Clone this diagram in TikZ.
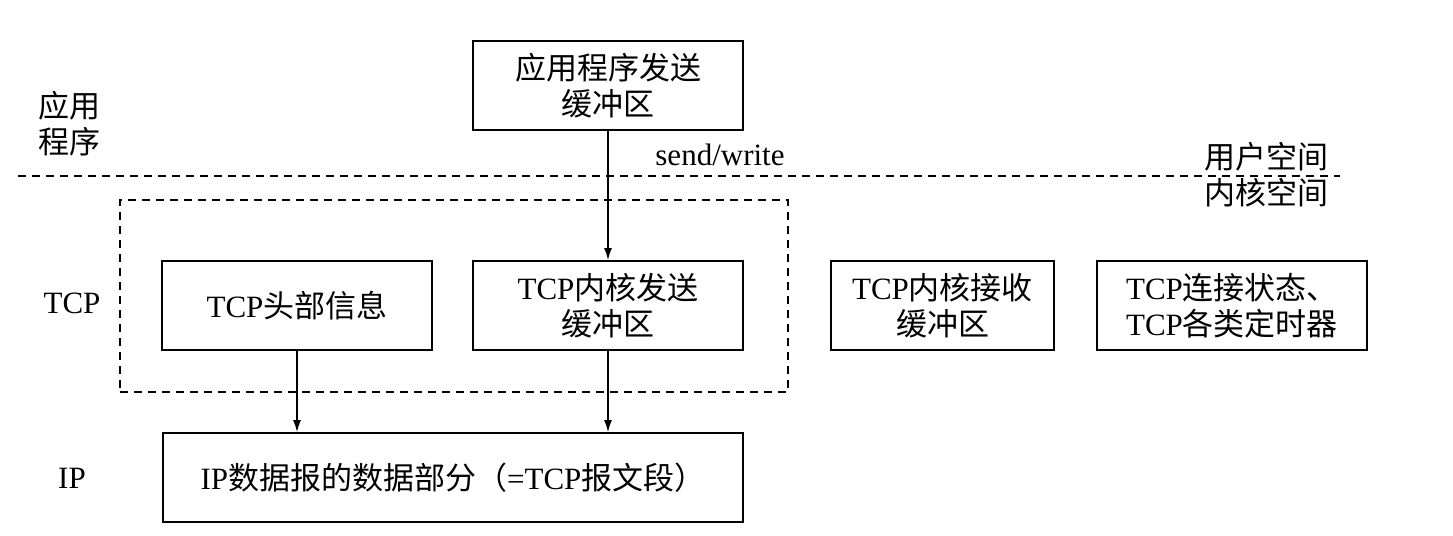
\documentclass[tikz,border=0pt]{standalone}
\usepackage{fontspec}
\setmainfont{Liberation Serif}
\newfontfamily\cjk{Noto Sans CJK SC}
\usetikzlibrary{arrows.meta}
\newcommand\zh[1]{{\cjk #1}}
\begin{document}
\begin{tikzpicture}[x=0.5pt,y=-0.5pt,
  box/.style={draw, line width=0.9pt, align=center, inner sep=0pt, minimum height=44.5pt, font=\fontsize{15.5}{18}\selectfont},
  lbl/.style={align=center, inner sep=0pt, font=\fontsize{15.5}{18}\selectfont},
  dline/.style={line width=0.7pt, dash pattern=on 4pt off 3pt},
  arr/.style={line width=0.7pt, -{Latex[length=6pt,width=4pt]}}]
\useasboundingbox (0,0) rectangle (1453,536);
% dashed separator
\coordinate (sepL) at (18,176);
\coordinate (sepR) at (1340,176);
\draw[dline] (sepL) -- (sepR);
% dashed group box
\node[draw, dline, minimum width=334pt, minimum height=96pt, inner sep=0pt] (grp) at (454,296) {};
% boxes
\node[box, minimum width=135pt] (app) at (608,85.5) {\zh{应用程序发送}\\\zh{缓冲区}};
\node[box, minimum width=135pt] (hdr) at (297,305.5) {TCP\zh{头部信息}};
\node[box, minimum width=135pt] (snd) at (608,305.5) {TCP\zh{内核发送}\\\zh{缓冲区}};
\node[box, minimum width=111.5pt] (rcv) at (942.5,305.5) {TCP\zh{内核接收}\\\zh{缓冲区}};
\node[box, minimum width=135pt] (st) at (1232,305.5) {TCP\zh{连接状态、}\\TCP\zh{各类定时器}};
\node[box, minimum width=290pt] (ip) at (453,477.5) {IP\zh{数据报的数据部分（}=TCP\zh{报文段）}};
% labels
\node[lbl] (lapp) at (70,124) {\zh{应用}\\\zh{程序}};
\node[lbl] (ltcp) at (72,303) {TCP};
\node[lbl] (lip) at (72,478) {IP};
\node[lbl] (sw) at (720,155) {send/write};
\node[lbl] (us) at (1266,157) {\zh{用户空间}};
\node[lbl] (ks) at (1266,193) {\zh{内核空间}};
% arrows
\draw[arr] (app.south) -- (snd.north);
\draw[arr] (hdr.south) -- (hdr.south |- ip.north);
\draw[arr] (snd.south) -- (snd.south |- ip.north);
\end{tikzpicture}
\end{document}
